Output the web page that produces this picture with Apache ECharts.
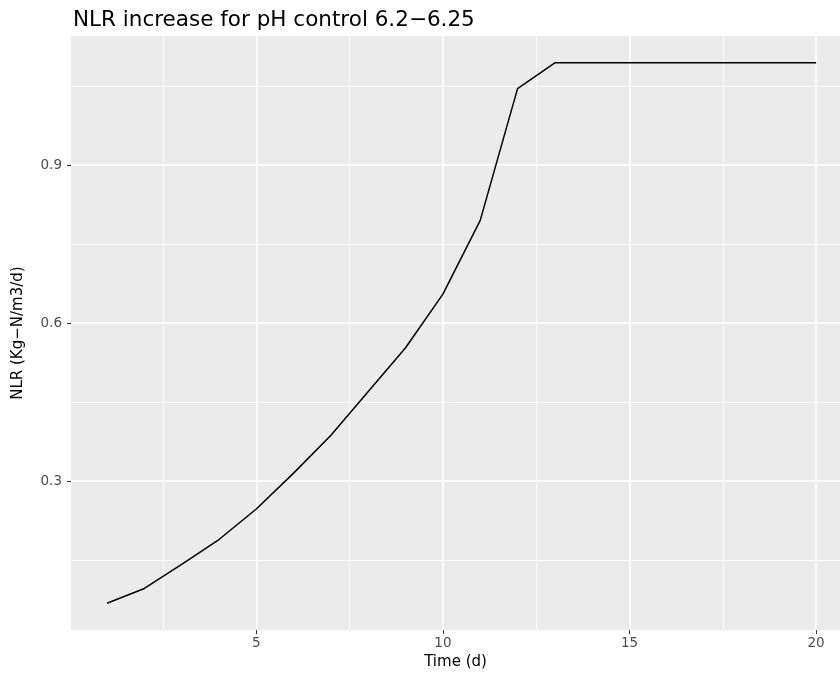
<!DOCTYPE html>
<html>
<head>
<meta charset="utf-8">
<script src="https://cdn.jsdelivr.net/npm/echarts@6/dist/echarts.min.js"></script>
<style>html,body{margin:0;padding:0;background:#fff}#c{width:840px;height:675px}</style>
</head>
<body>
<div id="c"></div>
<script>
const days = [1,2,3,4,5,6,7,8,9,10,11,12,13,14,15,16,17,18,19,20];
const nlr = [0.068,0.096,0.142,0.189,0.247,0.315,0.387,0.470,0.553,0.655,0.795,1.045,1.094,1.094,1.094,1.094,1.094,1.094,1.094,1.094];
const xMajor = [5,10,15,20];
const xMinor = [2.5,7.5,12.5,17.5];
const yMajor = [0.3,0.6,0.9];
const yMinor = [0.15,0.45,0.75,1.05];
const titleText = 'NLR increase for pH control 6.2\u22126.25';
const xTitle = 'Time (d)';
const yTitle = 'NLR (Kg\u2212N/m3/d)';

const font = '"DejaVu Sans", "Liberation Sans", Arial, sans-serif';
const chart = echarts.init(document.getElementById('c'), null, {renderer:'canvas'});
const minorStyle = {color:'#ffffff', width:0.8, type:'solid'};
const majorStyle = {color:'#ffffff', width:1.6, type:'solid'};
const gridLines = []
  .concat(yMinor.map(v => ({yAxis:v, lineStyle:minorStyle})))
  .concat(xMinor.map(v => ({xAxis:v, lineStyle:minorStyle})))
  .concat(yMajor.map(v => ({yAxis:v, lineStyle:majorStyle})))
  .concat(xMajor.map(v => ({xAxis:v, lineStyle:majorStyle})));

chart.setOption({
  animation:false,
  title:{text:titleText, left:68, top:4, textStyle:{fontFamily:font, fontSize:21.5, fontWeight:'normal', color:'#000'}},
  grid:{left:71, right:0, top:36, bottom:41, show:true, backgroundColor:'#EBEBEB', borderWidth:0},
  xAxis:{type:'value', min:0.035, max:20.64,
    name:xTitle, nameLocation:'middle', nameGap:23,
    nameTextStyle:{fontFamily:font, fontSize:15, color:'#000'},
    axisLine:{show:false},
    axisTick:{show:true, customValues:xMajor, length:4, lineStyle:{color:'#333', width:1}},
    axisLabel:{customValues:xMajor, fontFamily:font, fontSize:13.5, color:'#4D4D4D', margin:6},
    splitLine:{show:false}},
  yAxis:{type:'value', min:0.017, max:1.145,
    name:yTitle, nameLocation:'middle', nameGap:45, nameRotate:90,
    nameTextStyle:{fontFamily:font, fontSize:15, color:'#000'},
    axisLine:{show:false},
    axisTick:{show:true, customValues:yMajor, length:4, lineStyle:{color:'#333', width:1}},
    axisLabel:{customValues:yMajor, fontFamily:font, fontSize:13.5, color:'#4D4D4D', margin:9, formatter:v=>v.toFixed(1)},
    splitLine:{show:false}},
  series:[
    {type:'line', data:[], z:1, silent:true,
     markLine:{silent:true, symbol:['none','none'], label:{show:false}, animation:false, data:gridLines}},
    {type:'line', zlevel:1, z:3, data:days.map((d,i)=>[d,nlr[i]]), showSymbol:false, symbol:'none',
     lineStyle:{color:'#000', width:1.5}}
  ]
});
</script>
</body>
</html>
